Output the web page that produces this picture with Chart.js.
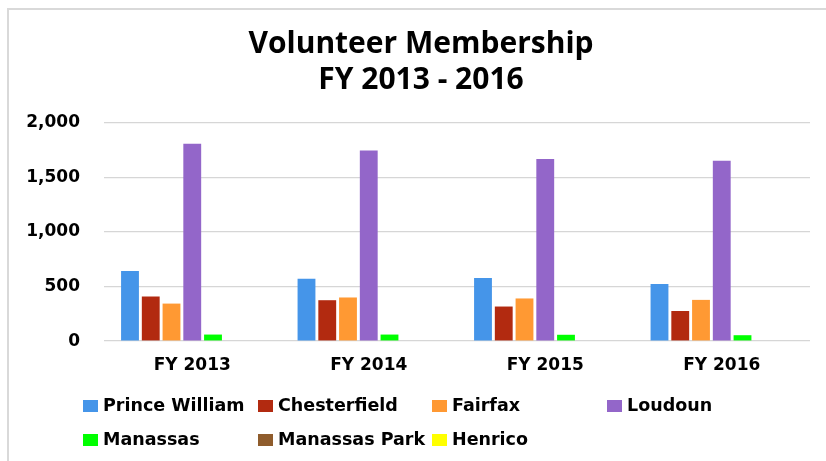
<!DOCTYPE html>
<html><head><meta charset="utf-8">
<script src="https://cdn.jsdelivr.net/npm/chart.js@4.4.0/dist/chart.umd.min.js"></script>
<style>
html,body{margin:0;padding:0;background:#fff;}
#wrap{position:relative;width:826px;height:461px;overflow:hidden;background:#fff;}
#frame{position:absolute;left:7px;top:8px;width:830px;height:470px;border-left:2px solid #d9d9d9;border-top:2px solid #d9d9d9;}
canvas{position:absolute;left:0;top:0;}
</style></head><body>
<div id="wrap"><div id="frame"></div><canvas id="c" width="826" height="461"></canvas></div>
<script>
const categories = ['FY 2013', 'FY 2014', 'FY 2015', 'FY 2016'];
const titleLines = ['Volunteer Membership', 'FY 2013 - 2016'];
const seriesNames = ['Prince William', 'Chesterfield', 'Fairfax', 'Loudoun', 'Manassas', 'Manassas Park', 'Henrico'];
const princeWilliam = [643, 572, 579, 523];
const chesterfield = [409, 375, 317, 276];
const fairfax = [344, 400, 391, 378];
const loudoun = [1810, 1748, 1669, 1653];
const manassas = [60, 60, 58, 54];
const manassasPark = [0, 0, 0, 0];
const henrico = [0, 0, 0, 0];
const yTicks = [0, 500, 1000, 1500, 2000];

const seriesValues = [princeWilliam, chesterfield, fairfax, loudoun, manassas, manassasPark, henrico];
const seriesColors = ['#4595E9', '#B22A10', '#FF9933', '#9366C9', '#00FF00', '#8F5C2C', '#FFFF00'];

const tickFont = {family: 'DejaVu Sans', weight: 'bold', size: 17};

const gridLegend = {
  id: 'gridLegend',
  afterDraw(chart) {
    const ctx = chart.ctx;
    const cols = [83, 258, 432, 607];
    const rows = [406, 440];
    ctx.save();
    ctx.font = 'bold 17.5px "DejaVu Sans"';
    ctx.textBaseline = 'middle';
    ctx.textAlign = 'left';
    chart.data.datasets.forEach((ds, i) => {
      const x = cols[i % 4];
      const y = rows[Math.floor(i / 4)];
      ctx.fillStyle = ds.backgroundColor;
      ctx.fillRect(x, y - 6, 15, 12);
      ctx.fillStyle = '#000';
      ctx.fillText(ds.label, x + 20, y);
    });
    ctx.restore();
  }
};

new Chart(document.getElementById('c'), {
  type: 'bar',
  data: {
    labels: categories,
    datasets: seriesNames.map((name, i) => ({
      label: name,
      data: seriesValues[i],
      backgroundColor: seriesColors[i],
      borderWidth: 0,
      categoryPercentage: 0.823,
      barPercentage: 0.86
    }))
  },
  options: {
    responsive: false,
    animation: false,
    devicePixelRatio: 1,
    layout: {padding: {left: 16, right: 0, top: 0, bottom: 71.5}},
    plugins: {
      legend: {display: false},
      tooltip: {enabled: false},
      title: {
        display: true,
        text: titleLines,
        color: '#000',
        font: {family: 'Open Sans', weight: 'bold', size: 30, lineHeight: 1.2},
        padding: {top: 26, bottom: 25}
      }
    },
    scales: {
      x: {
        grid: {display: false, drawTicks: false},
        border: {display: false},
        ticks: {color: '#000', font: tickFont, padding: 14}
      },
      y: {
        min: 0,
        max: 2000,
        afterBuildTicks(scale) { scale.ticks = yTicks.map(v => ({value: v})); },
        afterFit(scale) { scale.width = 88; },
        grid: {color: '#d6d6d6', lineWidth: 1.3, drawTicks: false},
        border: {display: false},
        ticks: {
          color: '#000', font: tickFont, padding: 24,
          callback: v => Number(v).toLocaleString('en-US')
        }
      },
      yRightSpace: {
        position: 'right',
        min: 0,
        max: 2000,
        afterFit(scale) { scale.width = 16; },
        grid: {display: false, drawTicks: false},
        border: {display: false},
        ticks: {display: false}
      }
    }
  },
  plugins: [gridLegend]
});
</script>
</body></html>
